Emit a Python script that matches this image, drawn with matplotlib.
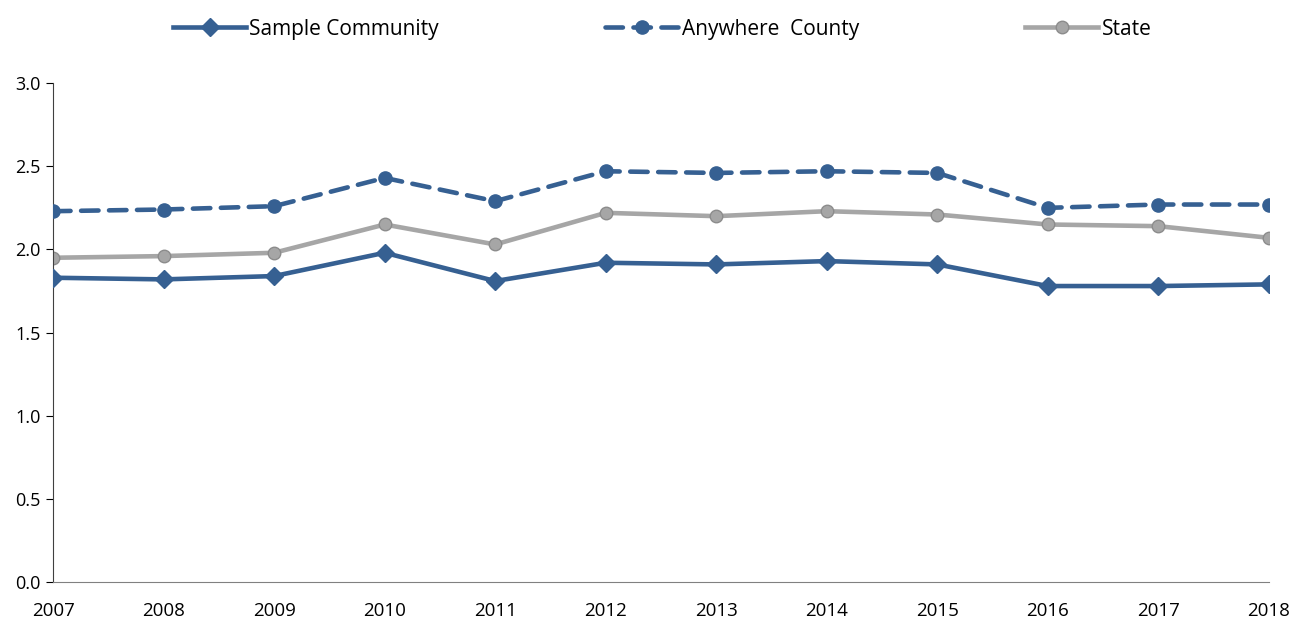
import matplotlib
matplotlib.use("Agg")
import matplotlib.pyplot as plt

# ── Data ──────────────────────────────────────────────────────────────────────
years = [2007, 2008, 2009, 2010, 2011, 2012, 2013, 2014, 2015, 2016, 2017, 2018]
community = [1.83, 1.82, 1.84, 1.98, 1.81, 1.92, 1.91, 1.93, 1.91, 1.78, 1.78, 1.79]
county = [2.23, 2.24, 2.26, 2.43, 2.29, 2.47, 2.46, 2.47, 2.46, 2.25, 2.27, 2.27]
state = [1.95, 1.96, 1.98, 2.15, 2.03, 2.22, 2.20, 2.23, 2.21, 2.15, 2.14, 2.07]
y_ticks = [0.0, 0.5, 1.0, 1.5, 2.0, 2.5, 3.0]

BLUE = "#366092"
GREY = "#A6A6A6"

plt.rcParams["font.family"] = ["Open Sans", "DejaVu Sans"]

fig = plt.figure(figsize=(12.96, 6.2), dpi=100)
ax = fig.add_axes([0.041, 0.061, 0.938, 0.805])

ax.plot(years, community, color=BLUE, linewidth=3.3, marker="D",
        markersize=9, label="Sample Community", zorder=3)
ax.plot(years, county, color=BLUE, linewidth=3.3, linestyle=(0, (3.8, 2.3)),
        dash_capstyle="round", marker="o", markersize=9.5,
        label="Anywhere  County", zorder=3)
ax.plot(years, state, color=GREY, linewidth=3.3, marker="o", markersize=9,
        markeredgecolor="#8C8C8C", markeredgewidth=1, label="State", zorder=2)

ax.set_xlim(years[0], years[-1])
ax.set_ylim(0, 3.0)
ax.set_yticks(y_ticks)
ax.set_yticklabels([f"{v:.1f}" for v in y_ticks])
ax.set_xticks(years)
ax.tick_params(axis="x", length=0, pad=14, labelsize=13.5)
ax.tick_params(axis="y", length=5, direction="out", labelsize=13, pad=4)
ax.spines["top"].set_visible(False)
ax.spines["right"].set_visible(False)
ax.spines["left"].set_color("#404040")
ax.spines["bottom"].set_color("#808080")

fig.legend(loc="upper center", bbox_to_anchor=(0.511, 1.0), ncol=3,
           frameon=False, fontsize=15, columnspacing=8.0, handlelength=3.5,
           handletextpad=0.15)

fig.savefig("out.png", dpi=100)
